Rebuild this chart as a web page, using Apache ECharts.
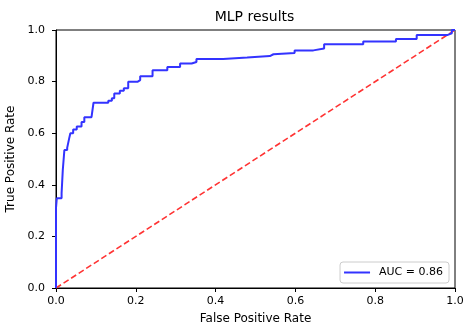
<!DOCTYPE html>
<html><head><meta charset="utf-8">
<script src="https://cdn.jsdelivr.net/npm/echarts@6/dist/echarts.min.js"></script>
<style>html,body{margin:0;padding:0;background:#fff}#c{width:463px;height:328px}</style>
</head><body><div id="c"></div>
<script>
const fpr = [0, 0, 0.002, 0.014, 0.017, 0.021, 0.028, 0.033, 0.036, 0.043, 0.052, 0.064, 0.071, 0.089, 0.094, 0.131, 0.140, 0.146, 0.160, 0.170, 0.181, 0.204, 0.211, 0.242, 0.279, 0.311, 0.340, 0.352, 0.419, 0.479, 0.536, 0.545, 0.598, 0.645, 0.672, 0.770, 0.852, 0.904, 0.982, 0.992, 1.0];
const tpr = [0, 0.31, 0.348, 0.367, 0.457, 0.535, 0.543, 0.58, 0.60, 0.614, 0.626, 0.643, 0.662, 0.668, 0.718, 0.726, 0.735, 0.754, 0.765, 0.774, 0.799, 0.806, 0.821, 0.844, 0.857, 0.870, 0.876, 0.888, 0.893, 0.899, 0.906, 0.911, 0.921, 0.928, 0.945, 0.955, 0.965, 0.981, 0.987, 1.0, 1.0];
const diagX = [0, 1];
const diagY = [0, 1];
const ticks = [0, 0.2, 0.4, 0.6, 0.8, 1.0];
const title = 'MLP results';
const legendLabel = 'AUC = 0.86';

// staircase: horizontal to the next fpr, then vertical to the next tpr
const rocPts = [[fpr[0], tpr[0]]];
for (let i = 1; i < fpr.length; i++) {
  rocPts.push([fpr[i], tpr[i - 1]]);
  rocPts.push([fpr[i], tpr[i]]);
}

const font = 'DejaVu Sans';
const chart = echarts.init(document.getElementById('c'), null, {renderer: 'canvas'});
const axisCommon = {
  type: 'value', min: 0, max: 1, interval: 0.2,
  axisLine: {show: true, onZero: false, lineStyle: {color: '#000', width: 1}},
  axisTick: {show: true, length: 4, lineStyle: {color: '#000'}},
  axisLabel: {color: '#000', fontFamily: font, fontSize: 11, formatter: v => v.toFixed(1)},
  splitLine: {show: false},
  nameLocation: 'middle',
  nameTextStyle: {color: '#000', fontFamily: font, fontSize: 12}
};
chart.setOption({
  animation: false,
  title: {text: title, left: 254.5, top: 10, padding: 0, textAlign: 'center',
    textStyle: {color: '#000', fontFamily: font, fontSize: 14, fontWeight: 'normal'}},
  grid: {left: 56, right: 8, top: 30, bottom: 40, containLabel: false, outerBoundsMode: 'none',
    show: true, borderColor: '#000', borderWidth: 1, backgroundColor: '#fff'},
  xAxis: Object.assign({}, axisCommon, {name: 'False Positive Rate', nameGap: 25,
    axisLabel: Object.assign({}, axisCommon.axisLabel, {margin: 8})}),
  yAxis: Object.assign({}, axisCommon, {name: 'True Positive Rate', nameGap: 36,
    axisLabel: Object.assign({}, axisCommon.axisLabel, {margin: 11})}),
  legend: {
    data: [legendLabel], right: 14, bottom: 45, orient: 'vertical',
    borderColor: '#ccc', borderWidth: 1, borderRadius: 3, padding: [5, 6, 5, 4],
    backgroundColor: 'rgba(255,255,255,0.8)',
    itemWidth: 26, itemHeight: 2, itemGap: 5, icon: 'rect',
    textStyle: {color: '#000', fontFamily: font, fontSize: 11, padding: [0, 0, 0, 4]}
  },
  series: [
    {
      name: legendLabel, type: 'line', symbol: 'none',
      data: rocPts,
      lineStyle: {color: '#3333ff', width: 2},
      itemStyle: {color: '#3333ff'}, z: 3
    },
    {
      name: 'diag', type: 'line', symbol: 'none',
      data: diagX.map((x, i) => [x, diagY[i]]),
      lineStyle: {color: '#ff3333', width: 1.6, type: [6, 3]},
      itemStyle: {color: '#ff3333'}, z: 2
    }
  ]
});
</script></body></html>
